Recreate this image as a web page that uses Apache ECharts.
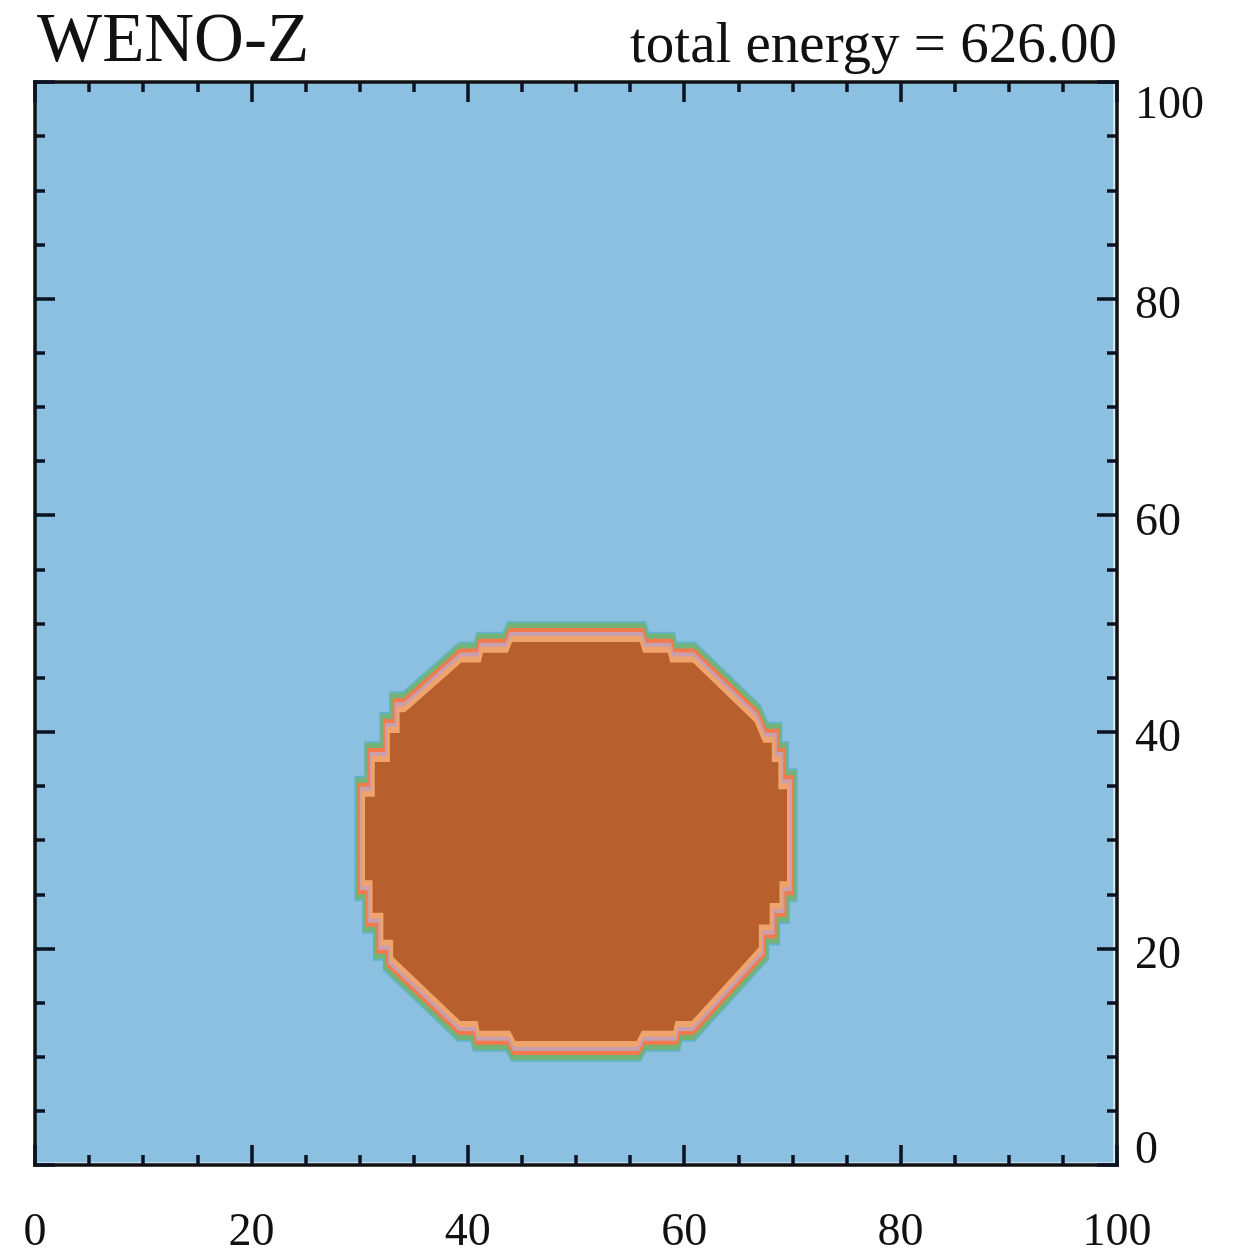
<!DOCTYPE html>
<html>
<head>
<meta charset="utf-8">
<title>WENO-Z</title>
<script src="https://cdn.jsdelivr.net/npm/echarts@6/dist/echarts.min.js"></script>
<style>
  html, body { margin: 0; padding: 0; background: #ffffff; }
  #chart { width: 1236px; height: 1258px; }
</style>
</head>
<body>
<div id="chart"></div>
<script>
// Scheme name and diagnostic shown above the plot
const schemeName = 'WENO-Z';
const totalEnergy = 626.00;

// Axis ranges and tick labels
const axisMin = 0;
const axisMax = 100;
const majorStep = 20;
const xTickLabels = [0, 20, 40, 60, 80, 100];
const yTickLabels = [0, 20, 40, 60, 80, 100];

// Extent of the ambient field (the computational domain as imaged)
const domainX = [0, 99.65];
const domainY = [0.25, 100];

// Outline of the dense region (inner edge of the transition layer), x/y in domain units
const blobOutline = [
  [55.9, 48.3], [44.1, 48.3],
  [43.7, 47.3], [41.4, 47.3], [41.2, 46.4], [39.4, 46.4],
  [34.2, 41.8], [33.7, 41.8], [33.7, 39.9], [32.8, 39.9], [32.8, 37.2],
  [31.4, 37.2], [31.4, 34.0], [30.5, 34.0],
  [30.5, 26.3], [31.2, 26.3], [31.2, 23.3], [32.2, 23.3], [32.2, 20.8],
  [33.1, 20.8], [33.1, 19.2],
  [39.3, 13.3], [40.9, 13.3], [41.1, 12.4], [43.9, 12.4], [44.4, 11.45],
  [55.6, 11.45], [56.1, 12.4], [59.0, 12.4], [59.2, 13.3], [60.7, 13.3],
  [66.9, 20.1], [66.9, 22.2], [67.9, 22.2], [67.9, 24.2], [68.8, 24.2],
  [68.8, 26.2], [69.5, 26.2],
  [69.5, 34.7], [68.7, 34.7], [68.7, 37.2], [68.1, 37.2], [68.1, 39.0],
  [67.3, 39.0], [66.5, 40.9],
  [60.8, 46.4], [58.7, 46.4], [58.5, 47.3], [56.2, 47.3]
];

// Contour level colours, from the ambient level up to the dense core
const ambientColor = '#8cc0e1';
const layerColors = ['#63b4c6', '#74b378', '#f27a4c', '#c99fb0', '#eea46c'];
const coreColor = '#b8602d';

const serif = 'Liberation Serif';
const ink = '#111111';

const chart = echarts.init(document.getElementById('chart'), null, { renderer: 'canvas' });

function baseAxis(extra) {
  return Object.assign({
    type: 'value',
    min: axisMin,
    max: axisMax,
    interval: majorStep,
    z: 10,
    splitLine: { show: false },
    axisLine: { show: true, onZero: false, lineStyle: { color: ink, width: 3.5, cap: 'square' } },
    axisTick: { show: true, inside: true, length: 20, lineStyle: { color: '#0b1322', width: 3.5 } },
    minorTick: { show: true, splitNumber: 4, length: 10, lineStyle: { color: '#0b1322', width: 3.5 } },
    minorSplitLine: { show: false }
  }, extra);
}

const labelFont = { fontFamily: serif, fontSize: 46, color: ink };

// Transition layers: the stroke of each layer extends beyond the core outline;
// vertical stretching gives the thicker layering seen on the flat top and bottom.
const stretchY = 2;
const layerReach = [21, 19, 14, 10, 6];

chart.setOption({
  animation: false,
  backgroundColor: '#ffffff',
  title: [
    {
      text: schemeName, left: 37, top: 8, padding: 0,
      textStyle: { fontFamily: serif, fontSize: 69, fontWeight: 'normal', color: ink }
    },
    {
      text: 'total energy = ' + totalEnergy.toFixed(2), right: 119, top: 19, padding: 0,
      textStyle: { fontFamily: serif, fontSize: 57, fontWeight: 'normal', color: ink }
    }
  ],
  grid: {
    left: 35, right: 119, top: 82, bottom: 93,
    containLabel: false, outerBoundsMode: 'none',
    show: true, backgroundColor: '#d6ebf7', borderWidth: 0
  },
  xAxis: [
    baseAxis({
      position: 'bottom',
      axisLabel: Object.assign({ show: true, margin: 45, formatter: v => xTickLabels.indexOf(v) >= 0 ? String(v) : '' }, labelFont)
    }),
    baseAxis({ position: 'top', axisLabel: { show: false } })
  ],
  yAxis: [
    baseAxis({
      position: 'right',
      axisLabel: Object.assign({
        show: true, margin: 18, align: 'left', verticalAlign: 'middle',
        formatter: v => {
          if (yTickLabels.indexOf(v) < 0) return '';
          if (v === axisMax) return '{t|' + v + '}';
          if (v === axisMin) return '{b|' + v + '}';
          return '{m|' + v + '}';
        },
        rich: {
          t: { fontFamily: serif, fontSize: 46, color: ink, padding: [48, 0, 0, 0] },
          m: { fontFamily: serif, fontSize: 46, color: ink, padding: [15, 0, 0, 0] },
          b: { fontFamily: serif, fontSize: 46, color: ink, padding: [0, 0, 28, 0] }
        }
      }, labelFont)
    }),
    baseAxis({ position: 'left', axisLabel: { show: false } })
  ],
  series: [
    {
      // ambient field over the whole domain
      type: 'custom',
      xAxisIndex: 0, yAxisIndex: 0,
      clip: true, z: 2,
      data: [[domainX[0], domainX[1], domainY[0], domainY[1]]],
      renderItem: (params, api) => {
        const p0 = api.coord([api.value(0), api.value(3)]);
        const p1 = api.coord([api.value(1), api.value(2)]);
        return {
          type: 'rect',
          shape: { x: p0[0], y: p0[1], width: p1[0] - p0[0], height: p1[1] - p0[1] },
          style: { fill: ambientColor }
        };
      }
    },
    {
      // dense region with its contour transition layers
      type: 'custom',
      xAxisIndex: 0, yAxisIndex: 0,
      clip: true, z: 3,
      data: [0],
      renderItem: (params, api) => {
        const pts = blobOutline.map(p => {
          const c = api.coord(p);
          return [c[0], c[1] / stretchY];
        });
        const children = layerColors.map((col, i) => ({
          type: 'polygon',
          scaleY: stretchY,
          z2: i + 1,
          shape: { points: pts },
          style: { fill: 'none', stroke: col, lineWidth: layerReach[i], lineJoin: 'miter', miterLimit: 4 }
        }));
        children.push({
          type: 'polygon',
          scaleY: stretchY,
          z2: 10,
          shape: { points: pts },
          style: { fill: coreColor, stroke: 'none' }
        });
        return { type: 'group', children: children };
      }
    }
  ]
});
</script>
</body>
</html>
